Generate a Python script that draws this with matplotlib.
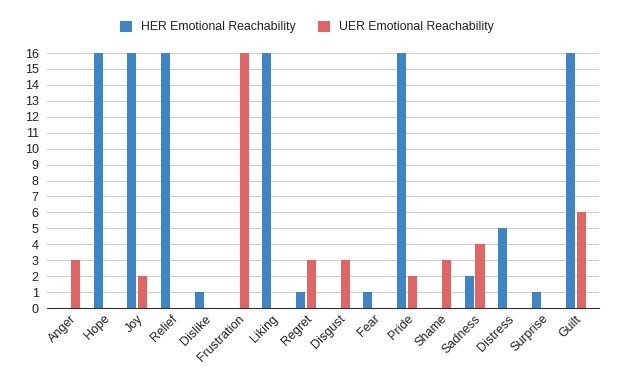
import numpy as np
import matplotlib.pyplot as plt

plt.rcParams['font.family'] = ['Liberation Sans', 'DejaVu Sans']

emotions = ["Anger", "Hope", "Joy", "Relief", "Dislike", "Frustration", "Liking", "Regret",
            "Disgust", "Fear", "Pride", "Shame", "Sadness", "Distress", "Surprise", "Guilt"]
her = [0, 16, 16, 16, 1, 0, 16, 1, 0, 1, 16, 0, 2, 5, 1, 16]
uer = [3, 0, 2, 0, 0, 16, 0, 3, 3, 0, 2, 3, 4, 0, 0, 6]

fig = plt.figure(figsize=(6.18, 3.82), dpi=100)
ax = fig.add_axes([0.0761, 0.1937, 0.893, 0.6675])

x = np.arange(len(emotions))
w = 0.267
ax.bar(x - 0.163, her, w, color="#3d85c6", label="HER Emotional Reachability")
ax.bar(x + 0.163, uer, w, color="#e06666", label="UER Emotional Reachability")

ax.set_xlim(-0.68, 15.69)
ax.set_ylim(0, 16)
ax.set_yticks(range(0, 17))
ax.grid(axis="y", color="#d0d0d0", linewidth=0.8)
ax.set_axisbelow(True)
for s in ["top", "right", "left"]:
    ax.spines[s].set_visible(False)
ax.spines["bottom"].set_color("#333333")
ax.tick_params(axis="both", length=0, labelsize=9, colors="#222222")
ax.tick_params(axis="y", pad=6)
ax.set_xticks(x)
ax.set_xticklabels(emotions, rotation=45, ha="right", rotation_mode="anchor")

fig.legend(*ax.get_legend_handles_labels(), loc="center", bbox_to_anchor=(0.497, 1 - 27 / 382),
           ncol=2, frameon=False, fontsize=8.8, handlelength=1.0, handleheight=1.0,
           handletextpad=0.75, columnspacing=1.8, labelcolor="#222222")

fig.savefig("out.png", dpi=100)
